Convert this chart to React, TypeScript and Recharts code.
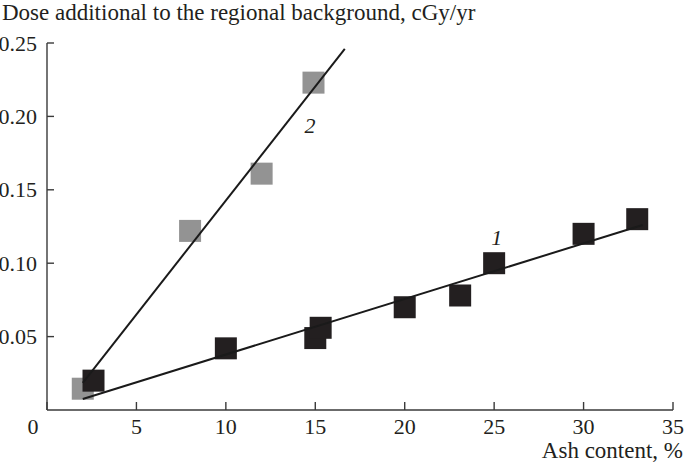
import React from 'react'
import {
  ScatterChart,
  Scatter,
  XAxis,
  YAxis,
  ReferenceDot,
} from 'recharts'

// series 1 (black squares)
const series1X = [2.6, 10, 15, 15.3, 20, 23.1, 25, 30, 33]
const series1Y = [0.02, 0.042, 0.049, 0.056, 0.07, 0.078, 0.1, 0.12, 0.13]

// series 2 (gray squares)
const series2X = [2, 8, 12, 14.9]
const series2Y = [0.0145, 0.122, 0.161, 0.223]

// fitted lines, end points
const fit1X = [2, 33.3]
const fit1Y = [0.0075, 0.126]
const fit2X = [2, 16.65]
const fit2Y = [0.0185, 0.246]

const xTicks = [0, 5, 10, 15, 20, 25, 30, 35]
const yTicks = [0.05, 0.1, 0.15, 0.2, 0.25]

const toPoints = (xs: number[], ys: number[]) => xs.map((x, i) => ({ x, y: ys[i] }))

const data1 = toPoints(series1X, series1Y)
const data2 = toPoints(series2X, series2Y)
const fit1 = toPoints(fit1X, fit1Y)
const fit2 = toPoints(fit2X, fit2Y)

const FONT = '"Liberation Serif", "Times New Roman", serif'
const AXIS_COLOR = '#3a3a3a'

const square = (fill: string) => (props: any) => (
  <rect x={props.cx - 11} y={props.cy - 11} width={22} height={22} fill={fill} />
)

const XTick = (props: any) => {
  const { x, y, payload } = props
  const shift = payload.value === 0 ? -14 : 0
  return (
    <text x={x + shift} y={y + 32} textAnchor="middle" fontFamily={FONT} fontSize={22} fill="#231f20">
      {payload.value}
    </text>
  )
}

const YTick = (props: any) => {
  const { x, y, payload } = props
  return (
    <text x={x} y={y + 7.5} textAnchor="end" fontFamily={FONT} fontSize={22} fill="#231f20">
      {payload.value.toFixed(2)}
    </text>
  )
}

const noDot = () => <g />

export default function App() {
  return (
    <div style={{ position: 'absolute', left: 0, top: 0, width: 685, height: 468, background: '#fff' }}>
      <ScatterChart width={685} height={468} margin={{ top: 43, right: 12, bottom: 0, left: 0 }}>
        <XAxis
          type="number"
          dataKey="x"
          domain={[0, 35]}
          ticks={xTicks}
          interval={0}
          height={58}
          tickSize={-8}
          tickMargin={0}
          axisLine={{ stroke: AXIS_COLOR, strokeWidth: 1.4 }}
          tickLine={{ stroke: AXIS_COLOR, strokeWidth: 1.4 }}
          tick={<XTick />}
          label={{
            content: () => (
              <text x={683} y={458} textAnchor="end" fontFamily={FONT} fontSize={23} fill="#231f20">
                Ash content, %
              </text>
            ),
          }}
        />
        <YAxis
          type="number"
          dataKey="y"
          domain={[0, 0.25]}
          ticks={yTicks}
          interval={0}
          width={47}
          tickSize={-7}
          tickMargin={17}
          axisLine={{ stroke: AXIS_COLOR, strokeWidth: 1.4 }}
          tickLine={{ stroke: AXIS_COLOR, strokeWidth: 1.4 }}
          tick={<YTick />}
          label={{
            content: () => (
              <text x={2} y={20} textAnchor="start" fontFamily={FONT} fontSize={23} fill="#231f20">
                Dose additional to the regional background, cGy/yr
              </text>
            ),
          }}
        />
        <Scatter data={data2} shape={square('#939393')} isAnimationActive={false} />
        <Scatter data={data1} shape={square('#231f20')} isAnimationActive={false} />
        <Scatter
          data={fit1}
          line={{ stroke: '#1a1a1a', strokeWidth: 2 }}
          shape={noDot}
          isAnimationActive={false}
        />
        <Scatter
          data={fit2}
          line={{ stroke: '#1a1a1a', strokeWidth: 2 }}
          shape={noDot}
          isAnimationActive={false}
        />
        <ReferenceDot
          x={25.15}
          y={0.118}
          r={0}
          fill="none"
          stroke="none"
          label={{ value: '1', position: 'center', fontFamily: FONT, fontSize: 22, fontStyle: 'italic', fill: '#231f20' }}
        />
        <ReferenceDot
          x={14.7}
          y={0.194}
          r={0}
          fill="none"
          stroke="none"
          label={{ value: '2', position: 'center', fontFamily: FONT, fontSize: 22, fontStyle: 'italic', fill: '#231f20' }}
        />
      </ScatterChart>
    </div>
  )
}
